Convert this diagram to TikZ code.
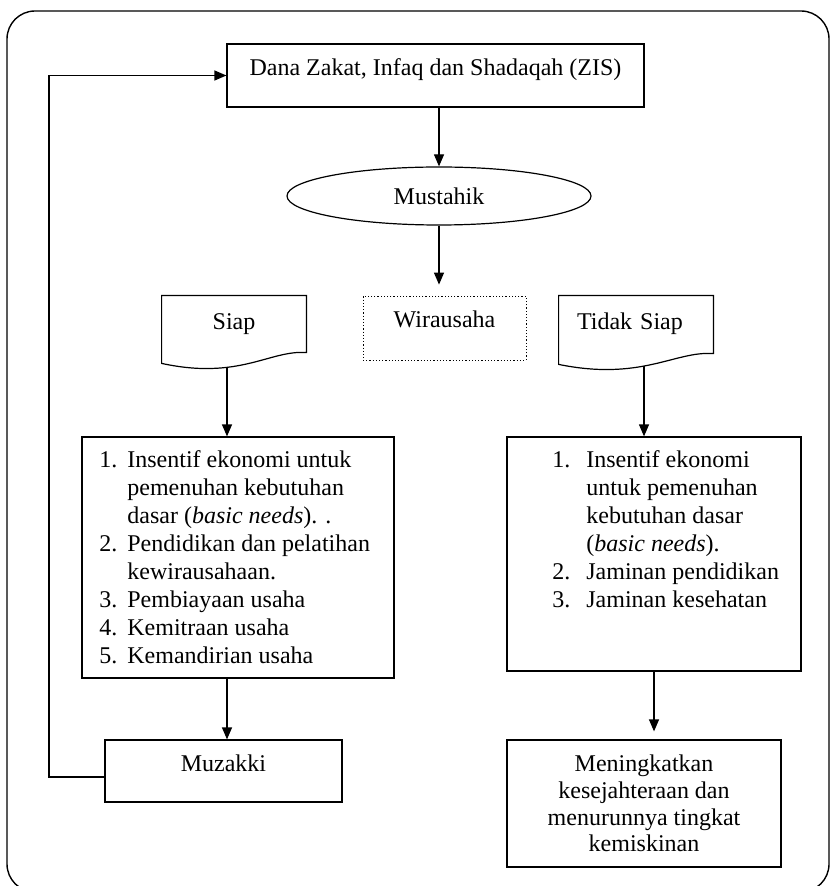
\documentclass[tikz,border=0pt]{standalone}
\usepackage{fontspec}
\setmainfont{Liberation Serif}
\usetikzlibrary{arrows.meta,shapes.geometric}

\begin{document}
\begin{tikzpicture}[x=0.5pt,y=0.5pt,yscale=-1,xscale=1,
  every node/.style={font=\fontsize{12}{14}\selectfont},
  box/.style={draw,line width=0.6pt,rectangle,inner sep=0pt},
  upper/.style={text height=8pt,text depth=8pt},
  doc/.style={rectangle,inner sep=0pt,text height=8pt,text depth=8pt},
  flow/.style={line width=0.6pt,-{Triangle[width=5pt,length=6pt]}}]
\useasboundingbox (0,0) rectangle (833,886);

%Shape: Rounded Rect
\draw [line width=0.7pt, rounded corners=14pt] (7,11) rectangle (829,892);

% Text Node
\node [box,upper,minimum width=208.5pt,minimum height=31.5pt] (zis) at (435.5,75.5) {Dana Zakat, Infaq dan Shadaqah (ZIS)};
% Text Node
\node [draw,line width=0.6pt,ellipse,inner sep=0pt,minimum width=152pt,minimum height=29pt] (mus) at (439,196) {Mustahik};
% Text Node
\node [box,upper,densely dotted,line width=0.4pt,minimum width=81.5pt,minimum height=32pt] (wira) at (444.5,328) {Wirausaha};

%Shape: Document
\node [doc,minimum width=72pt,minimum height=33.5pt] (siap) at (234,329.5) {Siap};
\draw [line width=0.6pt] (siap.north west) -- (siap.north east) -- ++(0,57) .. controls +(-36,-3) and +(78,17) .. (siap.south west) -- cycle;
%Shape: Document
\node [doc,align=left,text width=59pt,inner xsep=9pt,minimum height=34pt] (tidak) at (636,330) {Tidak Siap};
\draw [line width=0.6pt] (tidak.north west) -- (tidak.north east) -- ++(0,58) .. controls +(-38,-3) and +(83,17) .. (tidak.south west) -- cycle;

\coordinate (siapout) at (227,367);
\coordinate (tidakout) at (644,366);

%Shape: Rectangle
\node [box,minimum width=156pt,minimum height=120.5pt] (listl) at (238,557.5) {};
% Text Node
\node [anchor=north west,inner sep=0pt] (listltxt) at (99,447) {\begin{tabular}{@{}p{14pt}@{}l@{}}
1. & Insentif ekonomi untuk\\
   & pemenuhan kebutuhan\\
   & dasar (\textit{basic needs}). .\\
2. & Pendidikan dan pelatihan\\
   & kewirausahaan.\\
3. & Pembiayaan usaha\\
4. & Kemitraan usaha\\
5. & Kemandirian usaha
\end{tabular}};

%Shape: Rectangle
\node [box,minimum width=147pt,minimum height=117pt] (listr) at (654,554) {};
% Text Node
\node [anchor=north west,inner sep=0pt] (listrtxt) at (552,447) {\begin{tabular}{@{}p{17pt}@{}l@{}}
1. & Insentif ekonomi\\
   & untuk pemenuhan\\
   & kebutuhan dasar\\
   & (\textit{basic needs}).\\
2. & Jaminan pendidikan\\
3. & Jaminan kesehatan
\end{tabular}};

% Text Node
\node [box,upper,minimum width=118.5pt,minimum height=31pt] (muz) at (223.5,771) {Muzakki};
% Text Node
\node [box,align=center,minimum width=137pt,minimum height=63.5pt,font=\fontsize{12}{13.4}\selectfont] (hasil) at (644,803.5) {Meningkatkan\\kesejahteraan dan\\menurunnya tingkat\\kemiskinan};

\coordinate (back) at (49,777);

%Straight Lines
\draw [flow] (zis.south -| mus.north) -- (mus.north);
\draw [flow,shorten >=5.5pt] (mus.south) -- (mus.south |- wira.north);
\draw [flow] (siapout) -- (siapout |- listl.north);
\draw [flow] (tidakout) -- (tidakout |- listr.north);
\draw [flow] (siapout |- listl.south) -- (siapout |- muz.north);
\draw [flow,shorten >=4pt] (listr.south) -- (listr.south |- hasil.north);
\draw [flow] (muz.west |- back) -- (back) |- (zis.west);

\end{tikzpicture}
\end{document}
